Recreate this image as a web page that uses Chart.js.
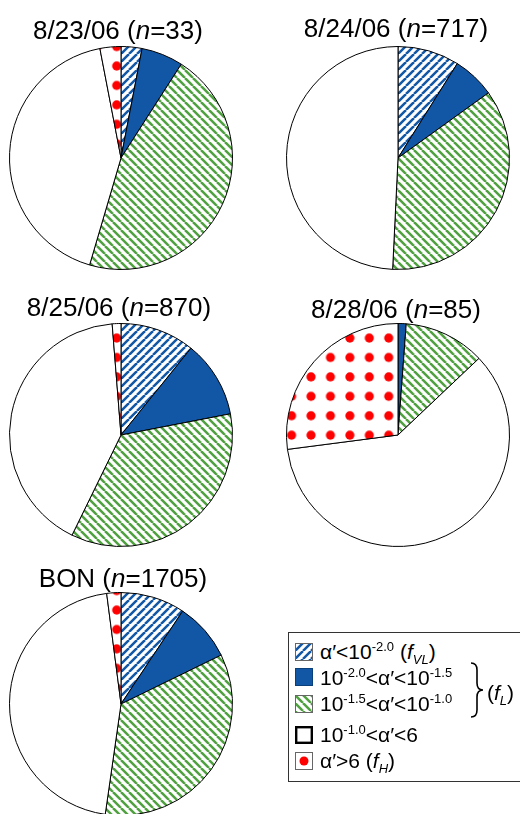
<!DOCTYPE html>
<html>
<head>
<meta charset="utf-8">
<script src="https://cdn.jsdelivr.net/npm/chart.js@4.4.1/dist/chart.umd.min.js"></script>
<style>
body { margin: 0; width: 520px; height: 814px; background: #fff; position: relative; overflow: hidden;
       font-family: "Liberation Sans", Arial, sans-serif; color: #000; }
.title { position: absolute; width: 300px; text-align: center; font-size: 26px; line-height: 24px; white-space: nowrap; }
.pie { position: absolute; }
#legend { position: absolute; left: 288px; top: 632px; width: 260px; height: 148px; border: 1px solid #333; }
.icon { position: absolute; left: 6px; }
.row { position: absolute; left: 31px; font-size: 21px; line-height: 20px; white-space: nowrap; }
.row .sp { font-size: 13px; position: relative; top: -8px; }
.row .sb { font-size: 13px; position: relative; top: 5px; font-style: italic; }
</style>
</head>
<body>
<div id="legend"></div>
<svg id="brace" width="520" height="814" style="position:absolute;left:0;top:0;pointer-events:none"></svg>
<script>
// slice classes, clockwise from 12 o'clock
const classLabels = ['α′<10^-2.0', '10^-2.0<α′<10^-1.5', '10^-1.5<α′<10^-1.0', '10^-1.0<α′<6', 'α′>6'];
const panelTitles = ['8/23/06', '8/24/06', '8/25/06', '8/28/06', 'BON'];
const panelN = [33, 717, 870, 85, 1705];

// counts per class
const counts0823 = [1, 2, 15, 14, 1];
const counts0824 = [64, 44, 256, 353, 0];
const counts0825 = [94, 97, 307, 361, 11];
const counts0828 = [0, 1, 10, 51, 23];
const countsBON = [159, 144, 588, 779, 35];
const panelCounts = [counts0823, counts0824, counts0825, counts0828, countsBON];

// layout: canvas top-left and title placement
const PIE = 224;
const pieBoxes = [[9, 46], [286, 46], [9, 323], [286, 323], [9, 592]];
const titleBoxes = [[-32, 18], [246, 16], [-31, 295], [246, 297], [-27, 566]];

const BLUE = '#1157a6';
const GREEN = '#4fa03e';
const RED = '#ff0000';

// diagonal hatch tile, dir 1 = "/", -1 = "\"
function hatchTile(color, dir) {
    const s = 8;
    const c = document.createElement('canvas');
    c.width = s; c.height = s;
    const g = c.getContext('2d');
    g.fillStyle = '#fff';
    g.fillRect(0, 0, s, s);
    g.strokeStyle = color;
    g.lineWidth = 2.5;
    for (const k of [-1, 0, 1]) {
        g.beginPath();
        if (dir > 0) { g.moveTo(k * s, s); g.lineTo(k * s + s, 0); }
        else { g.moveTo(k * s, 0); g.lineTo(k * s + s, s); }
        g.stroke();
    }
    return c;
}

function dotTile() {
    const c = document.createElement('canvas');
    c.width = 20; c.height = 20;
    const g = c.getContext('2d');
    g.fillStyle = '#fff';
    g.fillRect(0, 0, 20, 20);
    g.fillStyle = RED;
    g.beginPath();
    g.arc(10, 10, 4.7, 0, Math.PI * 2);
    g.fill();
    return c;
}

const blueHatch = hatchTile(BLUE, 1);
const greenHatch = hatchTile(GREEN, -1);
const dots = dotTile();

// dots sit on one grid across the page
function dotPattern(ctx, ox, oy) {
    const p = ctx.createPattern(dots, 'repeat');
    const sc = 0.9715;
    const per = 20 * sc;
    const tx = ((0.1 - 10 * sc - ox) % per + per) % per;
    const ty = ((7.7 - 10 * sc - oy) % per + per) % per;
    p.setTransform(new DOMMatrix([sc, 0, 0, sc, tx, ty]));
    return p;
}

panelCounts.forEach((vals, i) => {
    const [x, y] = pieBoxes[i];
    const cv = document.createElement('canvas');
    cv.className = 'pie';
    cv.width = PIE; cv.height = PIE;
    cv.style.left = x + 'px';
    cv.style.top = y + 'px';
    document.body.appendChild(cv);
    const ctx = cv.getContext('2d');

    const fills = [
        ctx.createPattern(blueHatch, 'repeat'),
        BLUE,
        ctx.createPattern(greenHatch, 'repeat'),
        '#ffffff',
        dotPattern(ctx, x, y)
    ];

    new Chart(ctx, {
        type: 'pie',
        data: {
            labels: classLabels,
            datasets: [{
                data: vals,
                backgroundColor: fills,
                borderColor: '#000',
                borderWidth: 1
            }]
        },
        options: {
            responsive: false,
            animation: false,
            events: [],
            layout: { padding: 0 },
            plugins: { legend: { display: false }, tooltip: { enabled: false } }
        }
    });

    const t = document.createElement('div');
    t.className = 'title';
    t.style.left = titleBoxes[i][0] + 'px';
    t.style.top = titleBoxes[i][1] + 'px';
    t.innerHTML = panelTitles[i] + ' (<i>n</i>=' + panelN[i] + ')';
    document.body.appendChild(t);
});

// legend
const legend = document.getElementById('legend');
const rowText = [
    'α′&lt;10<span class="sp">-2.0</span> (<i>f</i><span class="sb">VL</span>)',
    '10<span class="sp">-2.0</span>&lt;α′&lt;10<span class="sp">-1.5</span>',
    '10<span class="sp">-1.5</span>&lt;α′&lt;10<span class="sp">-1.0</span>',
    '10<span class="sp">-1.0</span>&lt;α′&lt;6',
    'α′&gt;6 (<i>f</i><span class="sb">H</span>)'
];
const iconTops = [10, 35, 62, 93, 119];
const rowTops = [9, 35, 61, 92, 118];

rowText.forEach((html, i) => {
    const ic = document.createElement('canvas');
    ic.className = 'icon';
    ic.width = 18; ic.height = 18;
    ic.style.top = iconTops[i] + 'px';
    legend.appendChild(ic);
    const g = ic.getContext('2d');
    if (i === 0) { g.fillStyle = g.createPattern(hatchTile(BLUE, 1), 'repeat'); g.fillRect(0, 0, 18, 18); }
    if (i === 1) { g.fillStyle = BLUE; g.fillRect(0, 0, 18, 18); }
    if (i === 2) { g.fillStyle = g.createPattern(hatchTile(GREEN, -1), 'repeat'); g.fillRect(0, 0, 18, 18); }
    if (i === 3) { g.fillStyle = '#fff'; g.fillRect(0, 0, 18, 18); }
    if (i === 4) {
        g.fillStyle = '#fff'; g.fillRect(0, 0, 18, 18);
        g.fillStyle = RED; g.beginPath(); g.arc(9, 9, 4.5, 0, Math.PI * 2); g.fill();
    }
    g.strokeStyle = i === 3 ? '#000' : (i === 1 ? '#0a3f7a' : '#666');
    g.lineWidth = i === 3 ? 2.4 : 1;
    if (i === 3) g.strokeRect(1.2, 1.2, 15.6, 15.6);
    else g.strokeRect(0.5, 0.5, 17, 17);

    const r = document.createElement('div');
    r.className = 'row';
    r.style.top = rowTops[i] + 'px';
    r.innerHTML = html;
    legend.appendChild(r);
});

// brace grouping the two middle classes as f_L
const svg = document.getElementById('brace');
svg.innerHTML =
    '<path d="M471 663 Q477 663 477 670 L477 683 Q477 690 483 690 Q477 690 477 697 L477 710 Q477 717 471 717" ' +
    'fill="none" stroke="#000" stroke-width="1.6"/>';
const fl = document.createElement('div');
fl.className = 'row';
fl.style.left = '198px';
fl.style.top = '50px';
fl.innerHTML = '(<i>f</i><span class="sb">L</span>)';
legend.appendChild(fl);
</script>
</body>
</html>
